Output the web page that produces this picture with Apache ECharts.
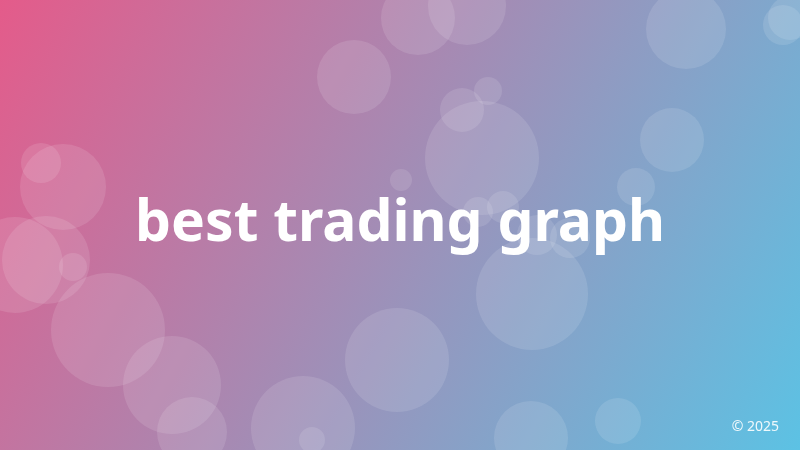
<!DOCTYPE html>
<html>
<head>
<meta charset="utf-8">
<script src="https://cdn.jsdelivr.net/npm/echarts@6/dist/echarts.min.js"></script>
<style>
html,body{margin:0;padding:0;width:800px;height:450px;overflow:hidden;}
#chart{width:800px;height:450px;}
</style>
</head>
<body>
<div id="chart"></div>
<script>
// Bokeh circles: centre x, centre y (pixels of the 800x450 canvas scale), radius
const circleX = [418, 467, 354, 686, 783, 790, 462, 488, 482, 672, 636, 401, 41, 63, 46, 15, 73, 108, 172, 192, 303, 312, 397, 532, 531, 618, 478, 503, 537, 570];
const circleY = [18, 6, 77, 29, 25, 18, 110, 91, 158, 140, 187, 180, 163, 187, 260, 265, 267, 330, 385, 432, 428, 440, 360, 294, 438, 421, 212, 207, 235, 238];
const circleR = [37, 39, 37, 40, 20, 22, 22, 14, 57, 32, 19, 11, 20, 43, 44, 48, 14, 57, 49, 35, 52, 13, 52, 56, 37, 23, 15, 16, 20, 20];
const titleText = 'best trading graph';
const footerText = '\u00a9 2025';

const points = circleX.map((x, i) => [x, circleY[i], circleR[i]]);

const chart = echarts.init(document.getElementById('chart'));
chart.setOption({
  backgroundColor: new echarts.graphic.LinearGradient(0, 0, 1, 1, [
    { offset: 0, color: '#e45b8a' },
    { offset: 1, color: '#5cc2e4' }
  ]),
  grid: { left: 0, right: 0, top: 0, bottom: 0 },
  xAxis: { type: 'value', min: 0, max: 800, show: false },
  yAxis: { type: 'value', min: 0, max: 450, inverse: true, show: false },
  title: [{
    text: titleText,
    left: 'center',
    top: 191,
    textStyle: { color: '#ffffff', fontSize: 57, fontWeight: 'bold', fontFamily: 'Noto Sans' }
  }, {
    text: footerText,
    right: 21,
    top: 420,
    padding: 0,
    textStyle: { color: 'rgba(255,255,255,0.9)', fontSize: 14, fontWeight: 'normal', fontFamily: 'Noto Sans' }
  }],
  series: [{
    type: 'scatter',
    data: points,
    symbol: 'circle',
    symbolSize: d => d[2] * 2,
    itemStyle: { color: 'rgba(255,255,255,0.15)' },
    silent: true,
    animation: false,
    z: 1
  }],
  animation: false
});
</script>
</body>
</html>
